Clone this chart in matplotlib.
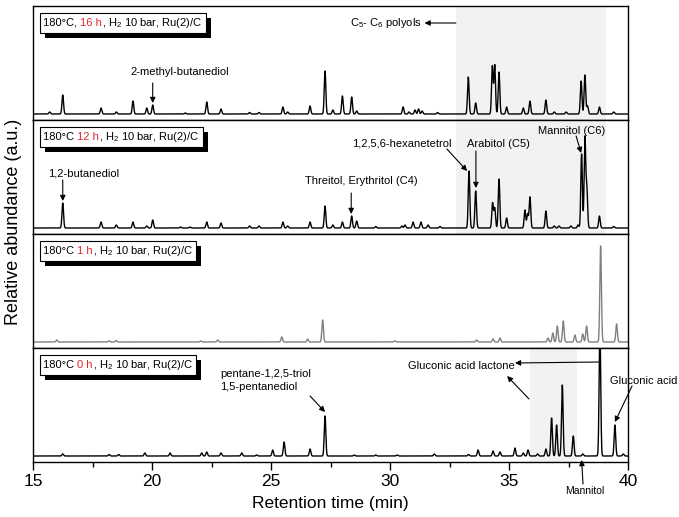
import numpy as np
import matplotlib
matplotlib.use("Agg")
from matplotlib import pyplot as plt
from matplotlib import patheffects
from matplotlib.offsetbox import TextArea, HPacker, AnchoredOffsetbox
from matplotlib.ticker import MultipleLocator

plt.rcParams['font.family'] = ['Liberation Sans', 'DejaVu Sans']
plt.rcParams['mathtext.fontset'] = 'custom'
plt.rcParams['mathtext.rm'] = 'Liberation Sans'
plt.rcParams['mathtext.default'] = 'regular'

# peak positions (min) and heights (a.u.)
t_16h = [15.7, 16.25, 17.86, 18.5, 19.2, 19.78, 20.03, 21.4, 22.3, 22.9, 24.1, 24.5,
         25.5, 25.7, 26.64, 27.27, 27.6, 28.0, 28.39, 28.6, 30.55, 30.8, 31.05, 31.2,
         31.35, 32.0, 33.29, 33.6, 34.3, 34.4, 34.58, 34.9, 35.6, 35.88, 36.55, 36.9,
         37.4, 38.03, 38.19, 38.3, 38.8, 39.4]
h_16h = [2, 19, 6, 2, 13, 6, 9, 1, 12, 5, 1.5, 1.5,
         7, 2, 8, 43, 4, 18, 17, 3, 7, 2, 4, 5,
         3, 1.5, 37, 11, 48, 49, 42, 7, 6, 13, 14, 2,
         2, 33, 39, 8, 7, 2]

t_12h = [16.25, 17.86, 18.5, 19.2, 19.78, 20.03, 21.2, 21.6, 22.3, 22.9, 24.1, 24.5,
         25.5, 25.7, 26.64, 27.27, 27.6, 28.0, 28.39, 28.6, 29.4, 30.5, 30.63, 30.97,
         31.3, 31.6, 32.1, 33.32, 33.6, 34.31, 34.4, 34.58, 34.9, 35.67, 35.78, 35.88,
         36.55, 36.9, 37.1, 37.6, 37.9, 38.05, 38.19, 38.27, 38.8, 39.4]
h_12h = [25, 6, 3, 6, 2, 8, 1, 1, 6, 5, 2, 2,
         6, 2, 6, 22, 3, 6, 12, 7, 1.5, 2, 3, 6,
         6, 3, 1.5, 57, 37, 25, 20, 49, 10, 18, 14, 31,
         17, 2, 2, 2, 3, 74, 90, 39, 12, 1.5]

t_1h = [16.0, 18.2, 18.5, 22.05, 22.76, 25.45, 26.54, 27.17, 30.2, 33.64, 34.33, 34.62,
        36.64, 36.84, 37.03, 37.28, 37.77, 38.1, 38.26, 38.85, 39.52]
h_1h = [2, 1, 1.5, 1, 2, 5, 3, 22, 1, 2, 3, 4,
        4, 9, 16, 21, 7, 8, 16, 96, 18]

t_0h = [16.25, 18.2, 18.6, 19.7, 20.76, 22.09, 22.3, 22.9, 23.77, 24.4, 25.07, 25.55,
        26.64, 27.27, 28.5, 29.4, 30.3, 31.86, 33.3, 33.7, 34.33, 34.62, 35.25, 35.6,
        35.8, 36.2, 36.55, 36.79, 37.0, 37.24, 37.7, 38.1, 38.82, 39.45, 39.8]
h_0h = [2, 1.5, 1.5, 3, 3, 3, 4, 3, 3, 1, 6, 14,
        7, 40, 1, 1, 1, 2, 1.5, 6, 5, 4, 8, 3,
        6, 2, 7, 38, 31, 71, 20, 2, 130, 31, 2]

hours = ['16 h', '12 h', '1 h', '0 h']
prefix = ['180°C, ', '180°C ', '180°C ', '180°C ']
peaks = [(t_16h, h_16h), (t_12h, h_12h), (t_1h, h_1h), (t_0h, h_0h)]
colors = ['black', 'black', '#808080', 'black']

t = np.linspace(15, 40, 6000)


def trace(pos, hts, s=0.033):
    y = np.zeros_like(t)
    for p, h in zip(pos, hts):
        y += h * np.exp(-0.5 * ((t - p) / s) ** 2)
    return y


fig = plt.figure(figsize=(6.79, 5.17), dpi=100)
left, width = 33 / 679, 595 / 679
ph = 114 / 517
bottoms = [1 - 120 / 517, 1 - 234 / 517, 1 - 348 / 517, 1 - 462 / 517]
axes = []
for i in range(4):
    ax = fig.add_axes([left, bottoms[i], width, ph])
    y = trace(*peaks[i])
    ax.plot(t, y, color=colors[i], lw=1.0)
    ax.set_xlim(15, 40)
    ax.set_ylim(-6, 108)
    ax.set_yticks([])
    for sp in ax.spines.values():
        sp.set_linewidth(1.0)

    # condition label box with black shadow
    parts = [TextArea(prefix[i], textprops=dict(color='black', fontsize=8)),
             TextArea(hours[i], textprops=dict(color='#e3262b', fontsize=8)),
             TextArea(', H$_2$ 10 bar, Ru(2)/C', textprops=dict(color='black', fontsize=8))]
    pack = HPacker(children=parts, align='baseline', pad=0, sep=0)
    box = AnchoredOffsetbox(loc='upper left', child=pack, pad=0.22, borderpad=0,
                            frameon=True, bbox_to_anchor=(0.012, 0.94),
                            bbox_transform=ax.transAxes)
    box.patch.set_boxstyle('square', pad=0)
    box.patch.set_edgecolor('black')
    box.patch.set_linewidth(0.8)
    box.patch.set_path_effects([patheffects.withSimplePatchShadow(
        offset=(3.5, -3.5), shadow_rgbFace='black', alpha=1.0)])
    ax.add_artist(box)
    axes.append(ax)

for ax in axes[:3]:
    ax.set_xticks([])

ax1, ax2, ax3, ax4 = axes
ax1.axvspan(32.78, 39.08, color='#f2f2f2', zorder=0, lw=0)
ax2.axvspan(32.78, 39.08, color='#f2f2f2', zorder=0, lw=0)
ax4.axvspan(35.88, 37.84, color='#f2f2f2', zorder=0, lw=0)

ax4.xaxis.set_major_locator(MultipleLocator(5))
ax4.xaxis.set_minor_locator(MultipleLocator(2.5))
ax4.tick_params(axis='x', which='major', direction='out', length=6, width=1,
                labelsize=12.5, pad=3)
ax4.tick_params(axis='x', which='minor', direction='out', length=3.5, width=1)
ax4.set_xlabel('Retention time (min)', fontsize=12.5, labelpad=5)
fig.text(0.02, 0.57, 'Relative abundance (a.u.)', rotation=90, fontsize=13,
         ha='center', va='center')

arr = dict(arrowstyle='-|>', color='black', lw=0.8, mutation_scale=8, shrinkA=0, shrinkB=0)
fs = 8

# 16 h
ax1.text(19.08, 42, '2-methyl-butanediol', fontsize=fs, va='center')
ax1.annotate('', xy=(20.03, 11), xytext=(20.03, 31), arrowprops=arr)
ax1.text(31.35, 91, 'C$_5$- C$_6$ polyols', fontsize=fs, va='center', ha='right')
ax1.annotate('', xy=(31.45, 91), xytext=(32.77, 91), arrowprops=arr)

# 12 h
ax2.text(15.63, 54, '1,2-butanediol', fontsize=fs, va='center')
ax2.annotate('', xy=(16.25, 27), xytext=(16.25, 48), arrowprops=arr)
ax2.text(26.43, 47, 'Threitol, Erythritol (C4)', fontsize=fs, va='center')
ax2.annotate('', xy=(28.37, 14), xytext=(28.37, 35), arrowprops=arr)
ax2.text(28.4, 84, '1,2,5,6-hexanetetrol', fontsize=fs, va='center')
ax2.annotate('', xy=(33.24, 57), xytext=(32.39, 79), arrowprops=arr)
ax2.text(33.24, 84, 'Arabitol (C5)', fontsize=fs, va='center')
ax2.annotate('', xy=(33.61, 40), xytext=(33.61, 77), arrowprops=arr)
ax2.text(36.22, 97, 'Mannitol (C6)', fontsize=fs, va='center')
ax2.annotate('', xy=(38.03, 75), xytext=(37.82, 92), arrowprops=arr)

# 0 h
ax4.text(22.86, 75.5, 'pentane-1,2,5-triol\n1,5-pentanediol', fontsize=fs,
         va='center', linespacing=1.3)
ax4.annotate('', xy=(27.27, 44), xytext=(26.64, 60), arrowprops=arr)
ax4.text(30.76, 90, 'Gluconic acid lactone', fontsize=fs, va='center')
ax4.annotate('', xy=(35.25, 93), xytext=(38.8, 94), arrowprops=arr)
ax4.annotate('', xy=(34.92, 80), xytext=(35.84, 57), arrowprops=arr)
ax4.text(39.24, 75, 'Gluconic acid', fontsize=fs, va='center', clip_on=False)
ax4.annotate('', xy=(39.45, 34), xytext=(40.17, 70), arrowprops=arr,
             annotation_clip=False)
ax4.text(38.19, -35, 'Mannitol', fontsize=7.5, ha='center', va='center', clip_on=False)
ax4.annotate('', xy=(38.05, -4), xytext=(38.11, -28), arrowprops=arr,
             annotation_clip=False)

fig.savefig('out.png', dpi=100)
